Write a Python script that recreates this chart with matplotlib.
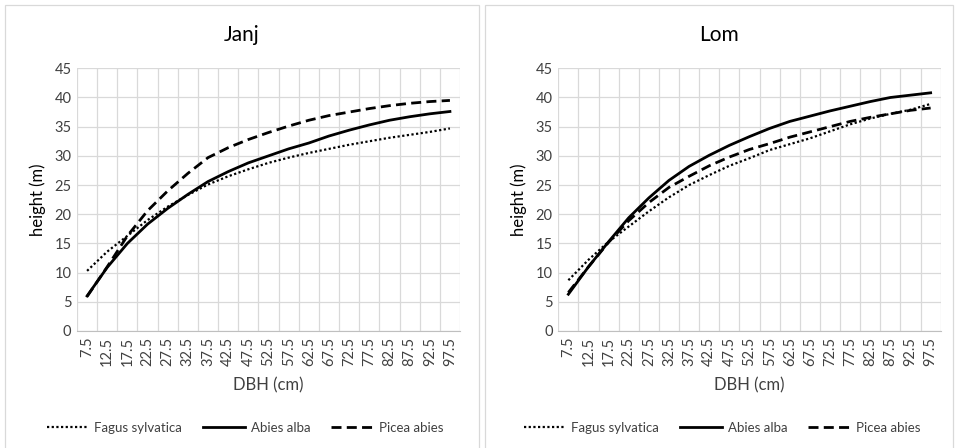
import matplotlib
matplotlib.use("Agg")
import matplotlib.pyplot as plt
from matplotlib.patches import Rectangle
import numpy as np

plt.rcParams['font.family'] = ['Lato', 'DejaVu Sans']

dbh = [7.5, 12.5, 17.5, 22.5, 27.5, 32.5, 37.5, 42.5, 47.5, 52.5,
       57.5, 62.5, 67.5, 72.5, 77.5, 82.5, 87.5, 92.5, 97.5]
dbh_labels = [f"{d:g}" for d in dbh]

# Janj
janj_fagus = [10.3, 13.6, 16.3, 19.0, 21.3, 23.3, 25.1, 26.5, 27.7, 28.8,
              29.7, 30.5, 31.2, 31.9, 32.5, 33.1, 33.6, 34.1, 34.7]
janj_abies = [6.0, 10.9, 15.0, 18.3, 21.0, 23.4, 25.6, 27.3, 28.8, 30.0,
              31.2, 32.2, 33.4, 34.4, 35.3, 36.1, 36.7, 37.2, 37.6]
janj_picea = [5.9, 11.0, 16.3, 20.6, 24.0, 27.0, 29.7, 31.4, 32.8, 34.0,
              35.1, 36.1, 36.9, 37.5, 38.1, 38.6, 39.0, 39.3, 39.5]

# Lom
lom_fagus = [8.7, 12.2, 15.3, 17.9, 20.5, 22.9, 25.0, 26.7, 28.3, 29.6,
             31.0, 32.0, 33.0, 34.2, 35.4, 36.4, 37.2, 37.9, 38.9]
lom_abies = [6.3, 11.0, 15.3, 19.4, 22.8, 25.8, 28.2, 30.1, 31.8, 33.3,
             34.7, 35.9, 36.8, 37.7, 38.5, 39.3, 40.0, 40.4, 40.8]
lom_picea = [6.6, 11.0, 15.2, 18.9, 22.0, 24.6, 26.5, 28.3, 29.8, 31.1,
             32.1, 33.2, 34.1, 35.0, 35.9, 36.6, 37.2, 37.8, 38.2]

panels = [
    ("Janj", janj_fagus, janj_abies, janj_picea),
    ("Lom", lom_fagus, lom_abies, lom_picea),
]

W, H = 955, 448
fig = plt.figure(figsize=(W / 100, H / 100), dpi=100)

# panel frames (px: x0, y0_top, x1, y1_bottom)
frames = [(5, 5, 479, 452), (485, 5, 953, 452)]
# axes rect in px
ax_px = [(77, 68.3, 460, 331), (558.3, 68.3, 940.7, 331)]

grid_c = '#d9d9d9'
for (title, fagus, abies, picea), fr, ap in zip(panels, frames, ax_px):
    fig.patches.append(Rectangle((fr[0] / W, 1 - fr[3] / H), (fr[2] - fr[0]) / W,
                                 (fr[3] - fr[1]) / H, transform=fig.transFigure,
                                 fill=False, edgecolor=grid_c, lw=0.9))
    ax = fig.add_axes([ap[0] / W, 1 - ap[3] / H, (ap[2] - ap[0]) / W, (ap[3] - ap[1]) / H])

    l1, = ax.plot(dbh, fagus, color='black', lw=1.6, ls=(0, (1, 1.1)),
                  label='Fagus sylvatica')
    l2, = ax.plot(dbh, abies, color='black', lw=2.0, ls='-', label='Abies alba')
    l3, = ax.plot(dbh, picea, color='black', lw=2.0, ls=(0, (3.6, 1.9)),
                  label='Picea abies')

    ax.set_xlim(5, 100)
    ax.set_ylim(0, 45)
    ax.set_yticks(range(0, 46, 5))
    ax.set_xticks(dbh)
    ax.set_xticklabels(dbh_labels, rotation=90)
    ax.set_xticks(np.arange(5, 101, 5), minor=True)
    ax.grid(True, axis='y', which='major', color=grid_c, lw=0.9)
    ax.grid(True, axis='x', which='minor', color=grid_c, lw=0.9)
    ax.set_axisbelow(True)
    ax.tick_params(axis='both', which='both', length=0, labelsize=10.5,
                   colors='#404040', pad=4)
    for s in ['top', 'right', 'left']:
        ax.spines[s].set_visible(False)
    ax.spines['bottom'].set_color('#bfbfbf')

    ax.set_ylabel('height (m)', fontsize=12, color='black', labelpad=6)
    ax.set_xlabel('DBH (cm)', fontsize=12, color='#404040', labelpad=8)

    cx = (fr[0] + fr[2]) / 2
    fig.text(cx / W, 1 - 35 / H, title, ha='center', va='center', fontsize=15,
             color='black')
    fig.legend(handles=[l1, l2, l3], loc='center', ncol=3, frameon=False,
               bbox_to_anchor=((cx + 3) / W, 1 - 428 / H), fontsize=9.5,
               handlelength=3.2, columnspacing=1.6, handletextpad=0.4,
               labelcolor='#404040')

fig.savefig('out.png', dpi=100)
